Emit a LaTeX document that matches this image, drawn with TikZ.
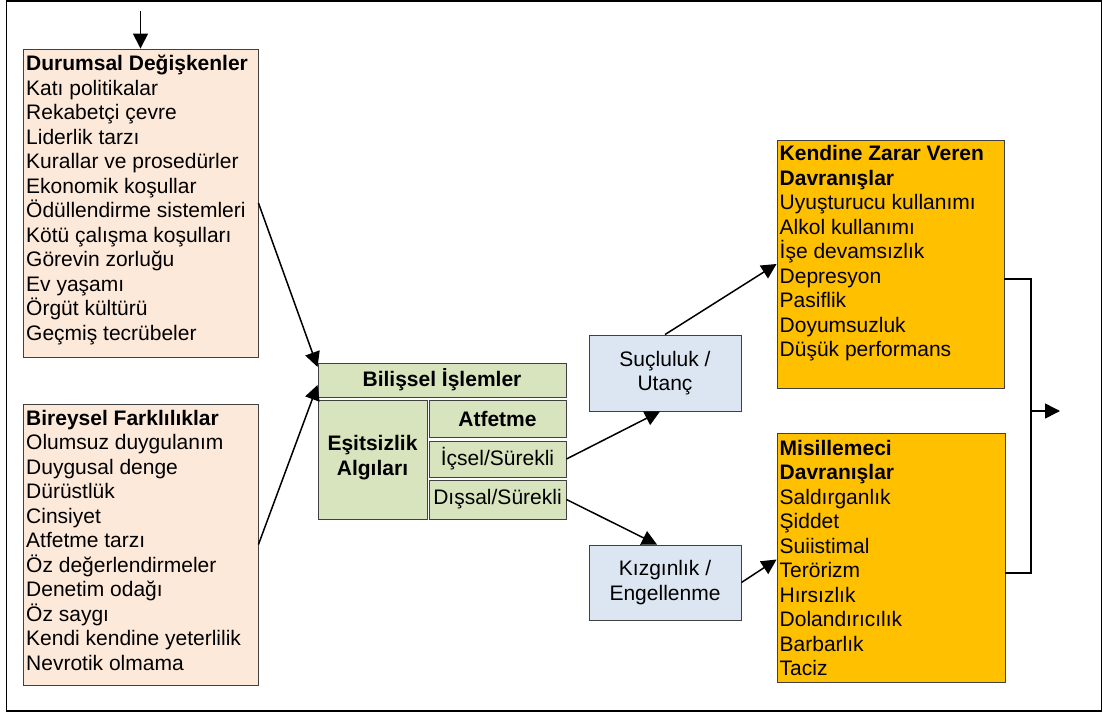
\documentclass[tikz,border=0pt]{standalone}
\usepackage{fontspec}
\setmainfont{Liberation Sans}
\usetikzlibrary{arrows.meta,fit,calc}
\definecolor{peach}{HTML}{FDE9D9}
\definecolor{sage}{HTML}{D7E4BD}
\definecolor{paleblue}{HTML}{DCE6F2}
\definecolor{amber}{HTML}{FFC000}
\definecolor{edgegray}{HTML}{404040}
\begin{document}
\begin{tikzpicture}[x=1pt,y=-1pt,
  box/.style={draw=edgegray, line width=0.9pt, inner sep=0pt, rectangle},
  txt/.style={inner sep=0pt, align=left, font=\fontsize{21}{24.5}\selectfont, anchor=north west},
  ctxt/.style={inner sep=0pt, align=center, font=\fontsize{21}{24.5}\selectfont},
  arr/.style={line width=1.5pt, -{Triangle[length=15pt,width=15pt]}},
  link/.style={line width=1.5pt}]
\useasboundingbox (0,0) rectangle (1103,720);
\node[draw, line width=1.5pt, inner sep=0pt, fit={(6.5,1)(1101.5,711)}] (frame) {};

% left boxes
\node[box, fill=peach, fit={(23,49)(258,357)}] (dur) {};
\node[txt] (durT) at (26,53.4) {\rule{0pt}{17pt}\textbf{Durumsal Değişkenler}\\Katı politikalar\\Rekabetçi çevre\\Liderlik tarzı\\Kurallar ve prosedürler\\Ekonomik koşullar\\Ödüllendirme sistemleri\\Kötü çalışma koşulları\\Görevin zorluğu\\Ev yaşamı\\Örgüt kültürü\\Geçmiş tecrübeler};
\node[box, fill=peach, fit={(23,404)(258,685)}] (bir) {};
\node[txt] (birT) at (26,408) {\rule{0pt}{17pt}\textbf{Bireysel Farklılıklar}\\Olumsuz duygulanım\\Duygusal denge\\Dürüstlük\\Cinsiyet\\Atfetme tarzı\\Öz değerlendirmeler\\Denetim odağı\\Öz saygı\\Kendi kendine yeterlilik\\Nevrotik olmama};

% centre block
\node[box, fill=sage, fit={(318,363)(566,397)}] (bil) {};
\node[ctxt] (bilT) at (bil.center) {\textbf{Bilişsel İşlemler}};
\node[box, fill=sage, fit={(318,400)(427,519)}] (esi) {};
\node[ctxt] (esiT) at ($(esi.center)+(0,-2)$) {\textbf{Eşitsizlik}\\\textbf{Algıları}};
\node[box, fill=sage, fit={(429,400)(566,437)}] (atf) {};
\node[ctxt] (atfT) at (atf.center) {\textbf{Atfetme}};
\node[box, fill=sage, fit={(429,441)(566,477)}] (ic) {};
\node[ctxt] (icT) at (ic.center) {İçsel/Sürekli};
\node[box, fill=sage, fit={(429,480)(566,519)}] (dis) {};
\node[ctxt] (disT) at (dis.center) {Dışsal/Sürekli};

% emotion boxes
\node[box, fill=paleblue, fit={(589,335)(741,411)}] (suc) {};
\node[ctxt] (sucT) at (suc.center) {Suçluluk /\\Utanç};
\node[box, fill=paleblue, fit={(589,545)(741,620)}] (kiz) {};
\node[ctxt] (kizT) at (kiz.center) {Kızgınlık /\\Engellenme};

% outcome boxes
\node[box, fill=amber, fit={(777,140)(1004,388)}] (ken) {};
\node[txt] (kenT) at (779.5,143.7) {\rule{0pt}{17pt}\textbf{Kendine Zarar Veren}\\\textbf{Davranışlar}\\Uyuşturucu kullanımı\\Alkol kullanımı\\İşe devamsızlık\\Depresyon\\Pasiflik\\Doyumsuzluk\\Düşük performans};
\node[box, fill=amber, fit={(777,433)(1005,682)}] (mis) {};
\node[txt] (misT) at (779.5,438) {\rule{0pt}{17pt}\textbf{Misillemeci}\\\textbf{Davranışlar}\\Saldırganlık\\Şiddet\\Suiistimal\\Terörizm\\Hırsızlık\\Dolandırıcılık\\Barbarlık\\Taciz};

% connectors
\coordinate (top) at (140.5,11);
\draw[arr] (top) -- (dur.north);
\draw[arr] (dur.east) -- ([yshift=13pt]bil.west);
\draw[arr] (bir.east) -- ([yshift=-5pt]bil.west);
\draw[arr] (ic.east) -- ([xshift=-5pt]suc.south);
\draw[arr] (dis.east) -- ([xshift=-8pt]kiz.north);
\draw[arr] (suc.north) -- (ken.west);
\draw[arr] (kiz.east) -- ([yshift=-2pt]mis.west);
\coordinate (bx) at (1031,411);
\coordinate (out) at (1060,411);
\draw[link] ([yshift=-15pt]ken.east) -| (bx) |- ([yshift=-15.5pt]mis.east);
\draw[arr] (bx) -- (out);
\end{tikzpicture}
\end{document}
